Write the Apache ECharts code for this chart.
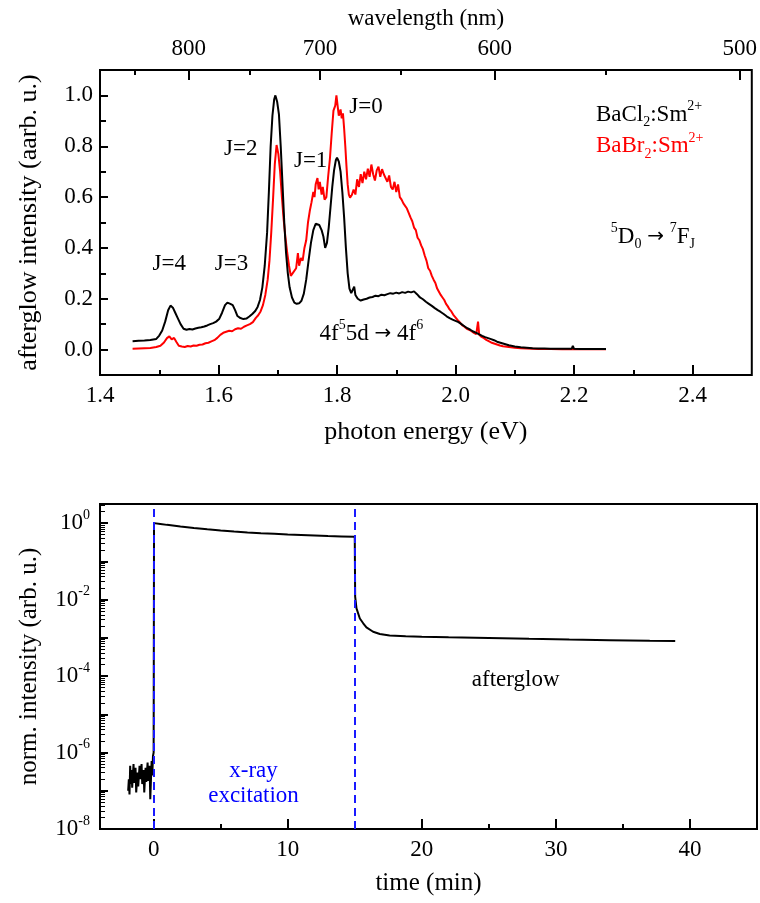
<!DOCTYPE html>
<html>
<head>
<meta charset="utf-8">
<script src="https://cdn.jsdelivr.net/npm/echarts@6/dist/echarts.min.js"></script>
<style>html,body{margin:0;padding:0;background:#fff;}#c{width:760px;height:903px;}</style>
</head>
<body>
<div id="c"></div>
<script>
// ---------- tick values ----------
const energyTicks = [1.4, 1.6, 1.8, 2.0, 2.2, 2.4];
const energyMinorTicks = [1.5, 1.7, 1.9, 2.1, 2.3];
const wavelengthTicks = [800, 700, 600, 500];
const wavelengthMinorTicks = [850, 750, 650, 550];
const intensityTicks = [0, 0.2, 0.4, 0.6, 0.8, 1.0];
const intensityMinorTicks = [0.1, 0.3, 0.5, 0.7, 0.9];
const timeTicks = [0, 10, 20, 30, 40];
const timeMinorTicks = [5, 15, 25, 35];
const logDecades = [-8, -7, -6, -5, -4, -3, -2, -1, 0];
const logLabelExponents = [-8, -6, -4, -2, 0];

// ---------- spectra: [photon energy eV, intensity] ----------
const bacl2 = [
[1.455,0.033],[1.465,0.035],[1.475,0.036],[1.485,0.038],[1.495,0.042],[1.500,0.055],[1.505,0.075],[1.510,0.110],
[1.515,0.155],[1.519,0.173],[1.523,0.165],[1.527,0.145],[1.531,0.125],[1.536,0.100],[1.541,0.082],[1.546,0.078],
[1.551,0.081],[1.556,0.079],[1.561,0.083],[1.566,0.086],[1.571,0.088],[1.576,0.091],[1.581,0.095],[1.586,0.100],
[1.591,0.104],[1.596,0.110],[1.601,0.120],[1.606,0.145],[1.611,0.175],[1.615,0.185],[1.620,0.180],[1.624,0.175],
[1.628,0.155],[1.632,0.132],[1.637,0.124],[1.642,0.120],[1.647,0.122],[1.652,0.130],[1.657,0.140],[1.662,0.152],
[1.666,0.168],[1.670,0.195],[1.674,0.245],[1.678,0.330],[1.682,0.460],[1.685,0.620],[1.688,0.800],[1.691,0.920],
[1.694,0.985],[1.696,1.000],[1.699,0.975],[1.702,0.925],[1.705,0.800],[1.708,0.650],[1.711,0.500],[1.714,0.380],
[1.717,0.300],[1.720,0.245],[1.724,0.205],[1.728,0.185],[1.732,0.180],[1.736,0.182],[1.740,0.192],[1.744,0.220],
[1.748,0.275],[1.752,0.350],[1.756,0.420],[1.760,0.470],[1.764,0.495],[1.767,0.502],[1.770,0.490],[1.774,0.470],
[1.777,0.445],[1.780,0.400],[1.783,0.420],[1.786,0.480],[1.789,0.560],[1.792,0.640],[1.795,0.705],[1.798,0.745],
[1.800,0.755],[1.803,0.740],[1.806,0.700],[1.809,0.620],[1.812,0.520],[1.815,0.400],[1.818,0.300],[1.821,0.240],
[1.824,0.222],[1.827,0.215],[1.829,0.248],[1.831,0.215],[1.835,0.200],[1.840,0.193],[1.845,0.197],[1.850,0.200],
[1.855,0.205],[1.860,0.207],[1.865,0.212],[1.870,0.210],[1.875,0.216],[1.880,0.214],[1.885,0.218],[1.890,0.222],
[1.895,0.220],[1.900,0.224],[1.905,0.221],[1.910,0.226],[1.915,0.223],[1.920,0.228],[1.925,0.225],[1.930,0.229],
[1.935,0.218],[1.940,0.205],[1.945,0.198],[1.950,0.188],[1.955,0.180],[1.960,0.172],[1.965,0.163],[1.970,0.155],
[1.975,0.148],[1.980,0.140],[1.985,0.131],[1.990,0.124],[1.995,0.118],[2.000,0.113],[2.005,0.108],[2.010,0.100],
[2.015,0.092],[2.020,0.084],[2.025,0.078],[2.030,0.071],[2.035,0.066],[2.040,0.060],[2.045,0.054],[2.050,0.049],
[2.055,0.045],[2.060,0.041],[2.065,0.037],[2.070,0.031],[2.080,0.024],[2.090,0.017],[2.100,0.012],[2.110,0.009],
[2.120,0.007],[2.130,0.005],[2.140,0.004],[2.150,0.004],[2.160,0.003],[2.170,0.003],[2.180,0.003],[2.190,0.003],
[2.196,0.003],[2.198,0.015],[2.200,0.003],[2.210,0.002],[2.220,0.002],[2.230,0.002],[2.240,0.002],[2.254,0.002]
];
const babr2 = [
[1.455,0.003],[1.465,0.004],[1.475,0.005],[1.485,0.006],[1.495,0.010],[1.502,0.015],[1.508,0.028],[1.513,0.045],
[1.517,0.052],[1.521,0.040],[1.525,0.046],[1.529,0.030],[1.533,0.015],[1.538,0.012],[1.543,0.010],[1.548,0.014],
[1.553,0.012],[1.558,0.016],[1.563,0.015],[1.568,0.019],[1.573,0.020],[1.578,0.025],[1.583,0.027],[1.588,0.032],
[1.593,0.037],[1.598,0.046],[1.603,0.058],[1.608,0.066],[1.613,0.070],[1.618,0.074],[1.623,0.072],[1.628,0.080],
[1.633,0.084],[1.638,0.082],[1.643,0.090],[1.648,0.095],[1.653,0.100],[1.658,0.108],[1.663,0.125],[1.667,0.135],
[1.671,0.150],[1.675,0.175],[1.679,0.215],[1.683,0.275],[1.686,0.350],[1.689,0.460],[1.692,0.590],[1.695,0.730],
[1.698,0.805],[1.701,0.770],[1.704,0.700],[1.707,0.600],[1.710,0.510],[1.713,0.440],[1.716,0.380],[1.719,0.330],
[1.722,0.290],[1.725,0.300],[1.728,0.305],[1.731,0.320],[1.734,0.380],[1.736,0.330],[1.739,0.360],[1.742,0.350],
[1.745,0.400],[1.748,0.430],[1.751,0.500],[1.754,0.545],[1.757,0.580],[1.760,0.620],[1.762,0.600],[1.764,0.650],
[1.767,0.675],[1.769,0.630],[1.771,0.660],[1.774,0.610],[1.776,0.640],[1.779,0.590],[1.782,0.600],[1.785,0.680],
[1.788,0.750],[1.791,0.850],[1.794,0.940],[1.797,0.960],[1.799,1.000],[1.801,0.960],[1.803,0.920],[1.806,0.945],
[1.808,0.910],[1.810,0.930],[1.812,0.870],[1.814,0.800],[1.816,0.720],[1.818,0.650],[1.820,0.610],[1.822,0.598],
[1.825,0.608],[1.828,0.630],[1.831,0.610],[1.834,0.670],[1.837,0.640],[1.840,0.690],[1.843,0.655],[1.846,0.700],
[1.849,0.670],[1.852,0.712],[1.855,0.680],[1.858,0.728],[1.861,0.690],[1.864,0.665],[1.867,0.705],[1.870,0.720],
[1.873,0.680],[1.876,0.710],[1.879,0.690],[1.882,0.695],[1.885,0.660],[1.888,0.685],[1.891,0.640],[1.894,0.630],
[1.897,0.660],[1.900,0.620],[1.903,0.650],[1.906,0.600],[1.909,0.590],[1.912,0.575],[1.915,0.580],[1.918,0.555],
[1.921,0.548],[1.924,0.520],[1.927,0.505],[1.930,0.480],[1.933,0.470],[1.936,0.440],[1.939,0.430],[1.942,0.410],
[1.945,0.395],[1.948,0.370],[1.951,0.350],[1.954,0.320],[1.957,0.310],[1.960,0.290],[1.963,0.275],[1.966,0.262],
[1.969,0.240],[1.972,0.235],[1.975,0.215],[1.978,0.205],[1.981,0.195],[1.984,0.180],[1.987,0.170],[1.990,0.158],
[1.993,0.150],[1.996,0.138],[1.999,0.131],[2.003,0.118],[2.007,0.108],[2.011,0.096],[2.015,0.090],[2.019,0.082],
[2.023,0.078],[2.027,0.072],[2.031,0.066],[2.035,0.061],[2.038,0.110],[2.040,0.058],[2.044,0.050],[2.048,0.045],
[2.052,0.038],[2.056,0.033],[2.060,0.028],[2.065,0.024],[2.070,0.020],[2.075,0.016],[2.080,0.013],[2.090,0.010],
[2.100,0.007],[2.110,0.005],[2.120,0.004],[2.130,0.003],[2.140,0.002],[2.160,0.002],[2.180,0.001],[2.200,0.001],
[2.220,0.001],[2.254,0.001]
];

// ---------- time trace: [time min, normalized intensity] ----------
const timeTrace = [
[-1.9,1.0e-7],[-1.85,2.0e-7],[-1.8,8e-8],[-1.75,4.5e-7],[-1.7,1.5e-7],[-1.65,3.5e-7],[-1.6,1.2e-7],[-1.5,5e-7],
[-1.45,1.6e-7],[-1.35,4e-7],[-1.3,9e-8],[-1.2,3e-7],[-1.15,1.3e-7],[-1.05,4.5e-7],[-1.0,2e-7],[-0.9,5e-7],
[-0.85,1.5e-7],[-0.75,3.5e-7],[-0.7,9e-8],[-0.6,4e-7],[-0.55,1.7e-7],[-0.45,5.5e-7],[-0.4,1.8e-7],[-0.3,4.5e-7],
[-0.25,6e-8],[-0.15,6e-7],[-0.1,2.5e-7],[-0.05,8e-7],[0.0,1e-6],[0.03,1.0],[0.5,0.95],[1,0.9],[2,0.82],[3,0.75],
[4,0.69],[5,0.64],[6,0.6],[7,0.57],[8,0.545],[9,0.525],[10,0.505],[11,0.49],[12,0.475],[13,0.46],[14,0.45],
[15,0.44],[15.03,1.2e-2],[15.13,5.9e-3],[15.38,3.2e-3],[15.63,2.4e-3],[15.87,1.87e-3],[16.37,1.44e-3],
[16.87,1.26e-3],[17.6,1.15e-3],[18.8,1.1e-3],[20,1.06e-3],[22,1.03e-3],[25,9.9e-4],[28,9.4e-4],[31,9.0e-4],
[34,8.7e-4],[37,8.4e-4],[38.9,8.3e-4]
];
const excitationMarks = [0, 15];

// ---------- annotations (data coordinates) ----------
const spectrumNotes = [
  {coord:[1.517,0.335], text:'J=4', color:'#000', align:'center'},
  {coord:[1.622,0.335], text:'J=3', color:'#000', align:'center'},
  {coord:[1.6375,0.788], text:'J=2', color:'#000', align:'center'},
  {coord:[1.7555,0.742], text:'J=1', color:'#000', align:'center'},
  {coord:[1.849,0.954], text:'J=0', color:'#000', align:'center'},
  {coord:[1.858,0.062], text:'4f{sup|5}5d {arr|→} 4f{sup|6}', color:'#000', align:'center'},
  {coord:[2.237,0.925], text:'BaCl{sub|2}:Sm{sup|2+}', color:'#000', align:'left'},
  {coord:[2.237,0.800], text:'BaBr{sub|2}:Sm{sup|2+}', color:'#ff0000', align:'left'},
  {coord:[2.262,0.444], text:'{sup|5}D{sub|0} {arr|→} {sup|7}F{sub|J}', color:'#000', align:'left'}
];
const timeNotes = [
  {coord:[7.45,1.6e-7], text:'x-ray\nexcitation', color:'#0000ff', align:'center'},
  {coord:[27.0,7.9e-5], text:'afterglow', color:'#000', align:'center'}
];

// ---------- build ----------
const FONT = 'Liberation Serif';
const HC = 1239.84;
function richFor(color) {
  return {
    sup: {fontSize: 14, fontFamily: FONT, verticalAlign: 'top', lineHeight: 14, color},
    sub: {fontSize: 14, fontFamily: FONT, verticalAlign: 'bottom', lineHeight: 14, color},
    arr: {fontSize: 20, fontFamily: 'DejaVu Sans', color}
  };
}
function notePoints(list) {
  return list.map(n => ({
    coord: n.coord,
    value: 0,
    label: {
      show: true, position: 'inside', formatter: n.text, color: n.color, align: n.align,
      verticalAlign: 'middle', fontSize: 23, fontFamily: FONT, lineHeight: n.text.indexOf('\n') >= 0 ? 25 : 30,
      rich: richFor(n.color)
    }
  }));
}
const logMajor = logDecades.map(e => Math.pow(10, e));
const logLabels = logLabelExponents.map(e => Math.pow(10, e));
const logMinor = [];
logDecades.forEach(e => { for (let k = 2; k <= 9; k++) logMinor.push(k * Math.pow(10, e)); });

function axisText() { return {color: '#000', fontFamily: FONT, fontSize: 23}; }
function ticks(values, length, width) {
  return {show: true, inside: true, length: length, customValues: values, lineStyle: {color: '#000', width: width || 2}};
}
function hiddenLine() { return {show: false, onZero: false}; }
function nameStyle(size) { return {color: '#000', fontFamily: FONT, fontSize: size}; }

const E_MIN = 1.4, E_MAX = 2.5, I_MIN = -0.1, I_MAX = 1.1, T_MIN = -4, T_MAX = 45;
const L_MIN = 1e-8, L_MAX = Math.pow(10, 0.5);
const waveMajorE = wavelengthTicks.map(w => HC / w);
const waveMinorE = wavelengthMinorTicks.map(w => HC / w);

const option = {
  animation: false,
  backgroundColor: '#fff',
  grid: [
    {left: 100, right: 3, top: 70, height: 305, show: true, borderColor: '#000', borderWidth: 2, backgroundColor: 'transparent'},
    {left: 100, right: 3, top: 504, height: 325, show: true, borderColor: '#000', borderWidth: 2, backgroundColor: 'transparent'}
  ],
  xAxis: [
    {gridIndex: 0, type: 'value', position: 'bottom', min: E_MIN, max: E_MAX, axisLine: hiddenLine(), splitLine: {show: false},
     axisTick: ticks(energyTicks, 10),
     axisLabel: Object.assign({customValues: energyTicks, margin: 9, formatter: v => v.toFixed(1)}, axisText()),
     name: 'photon energy (eV)', nameLocation: 'middle', nameGap: 44, nameTextStyle: nameStyle(26)},
    {gridIndex: 0, type: 'value', position: 'bottom', min: E_MIN, max: E_MAX, axisLine: hiddenLine(), splitLine: {show: false},
     axisTick: ticks(energyMinorTicks, 5), axisLabel: {show: false}},
    {gridIndex: 0, type: 'value', position: 'top', min: E_MIN, max: E_MAX, axisLine: hiddenLine(), splitLine: {show: false},
     axisTick: ticks(waveMajorE, 10),
     axisLabel: Object.assign({customValues: waveMajorE, margin: 10, formatter: v => String(Math.round(HC / v / 10) * 10)}, axisText()),
     name: 'wavelength (nm)', nameLocation: 'middle', nameGap: 40, nameTextStyle: nameStyle(23)},
    {gridIndex: 0, type: 'value', position: 'top', min: E_MIN, max: E_MAX, axisLine: hiddenLine(), splitLine: {show: false},
     axisTick: ticks(waveMinorE, 5), axisLabel: {show: false}},
    {gridIndex: 1, type: 'value', position: 'bottom', min: T_MIN, max: T_MAX, axisLine: hiddenLine(), splitLine: {show: false},
     axisTick: ticks(timeTicks, 10),
     axisLabel: Object.assign({customValues: timeTicks, margin: 9}, axisText()),
     name: 'time (min)', nameLocation: 'middle', nameGap: 42, nameTextStyle: nameStyle(25)},
    {gridIndex: 1, type: 'value', position: 'bottom', min: T_MIN, max: T_MAX, axisLine: hiddenLine(), splitLine: {show: false},
     axisTick: ticks(timeMinorTicks, 5), axisLabel: {show: false}}
  ],
  yAxis: [
    {gridIndex: 0, type: 'value', position: 'left', min: I_MIN, max: I_MAX, axisLine: hiddenLine(), splitLine: {show: false},
     axisTick: ticks(intensityTicks, 8),
     axisLabel: Object.assign({customValues: intensityTicks, margin: 7, formatter: v => v.toFixed(1)}, axisText()),
     name: 'afterglow intensity (aarb. u.)', nameLocation: 'middle', nameGap: 58, nameTextStyle: nameStyle(26)},
    {gridIndex: 0, type: 'value', position: 'left', min: I_MIN, max: I_MAX, axisLine: hiddenLine(), splitLine: {show: false},
     axisTick: ticks(intensityMinorTicks, 6), axisLabel: {show: false}},
    {gridIndex: 1, type: 'log', logBase: 10, position: 'left', min: L_MIN, max: L_MAX, axisLine: hiddenLine(), splitLine: {show: false},
     axisTick: ticks(logMajor, 8),
     axisLabel: Object.assign({customValues: logLabels, margin: 10,
       formatter: v => '10{sup|' + Math.round(Math.log10(v)) + '}',
       rich: {sup: {fontSize: 14, fontFamily: FONT, color: '#000', verticalAlign: 'top', lineHeight: 14}}}, axisText(), {lineHeight: 30}),
     name: 'norm. intensity (arb. u.)', nameLocation: 'middle', nameGap: 58, nameTextStyle: nameStyle(25)},
    {gridIndex: 1, type: 'log', logBase: 10, position: 'left', min: L_MIN, max: L_MAX, axisLine: hiddenLine(), splitLine: {show: false},
     axisTick: ticks(logMinor, 5, 1), axisLabel: {show: false}}
  ],
  series: [
    {type: 'line', name: 'BaBr2:Sm2+', xAxisIndex: 0, yAxisIndex: 0, data: babr2, showSymbol: false, symbol: 'none',
     lineStyle: {color: '#ff0000', width: 2}, z: 2},
    {type: 'line', name: 'BaCl2:Sm2+', xAxisIndex: 0, yAxisIndex: 0, data: bacl2, showSymbol: false, symbol: 'none',
     lineStyle: {color: '#000', width: 2}, z: 3,
     markPoint: {symbol: 'circle', symbolSize: 0, data: notePoints(spectrumNotes), silent: true}},
    {type: 'line', name: 'trace', xAxisIndex: 4, yAxisIndex: 2, data: timeTrace, showSymbol: false, symbol: 'none',
     lineStyle: {color: '#000', width: 2}, z: 3,
     markPoint: {symbol: 'circle', symbolSize: 0, data: notePoints(timeNotes), silent: true},
     markLine: {silent: true, symbol: 'none', label: {show: false},
       lineStyle: {color: '#1a1aff', type: [8, 5], width: 2},
       data: excitationMarks.map(t => ({xAxis: t}))}}
  ]
};
const chart = echarts.init(document.getElementById('c'), null, {renderer: 'canvas'});
chart.setOption(option);
</script>
</body>
</html>
